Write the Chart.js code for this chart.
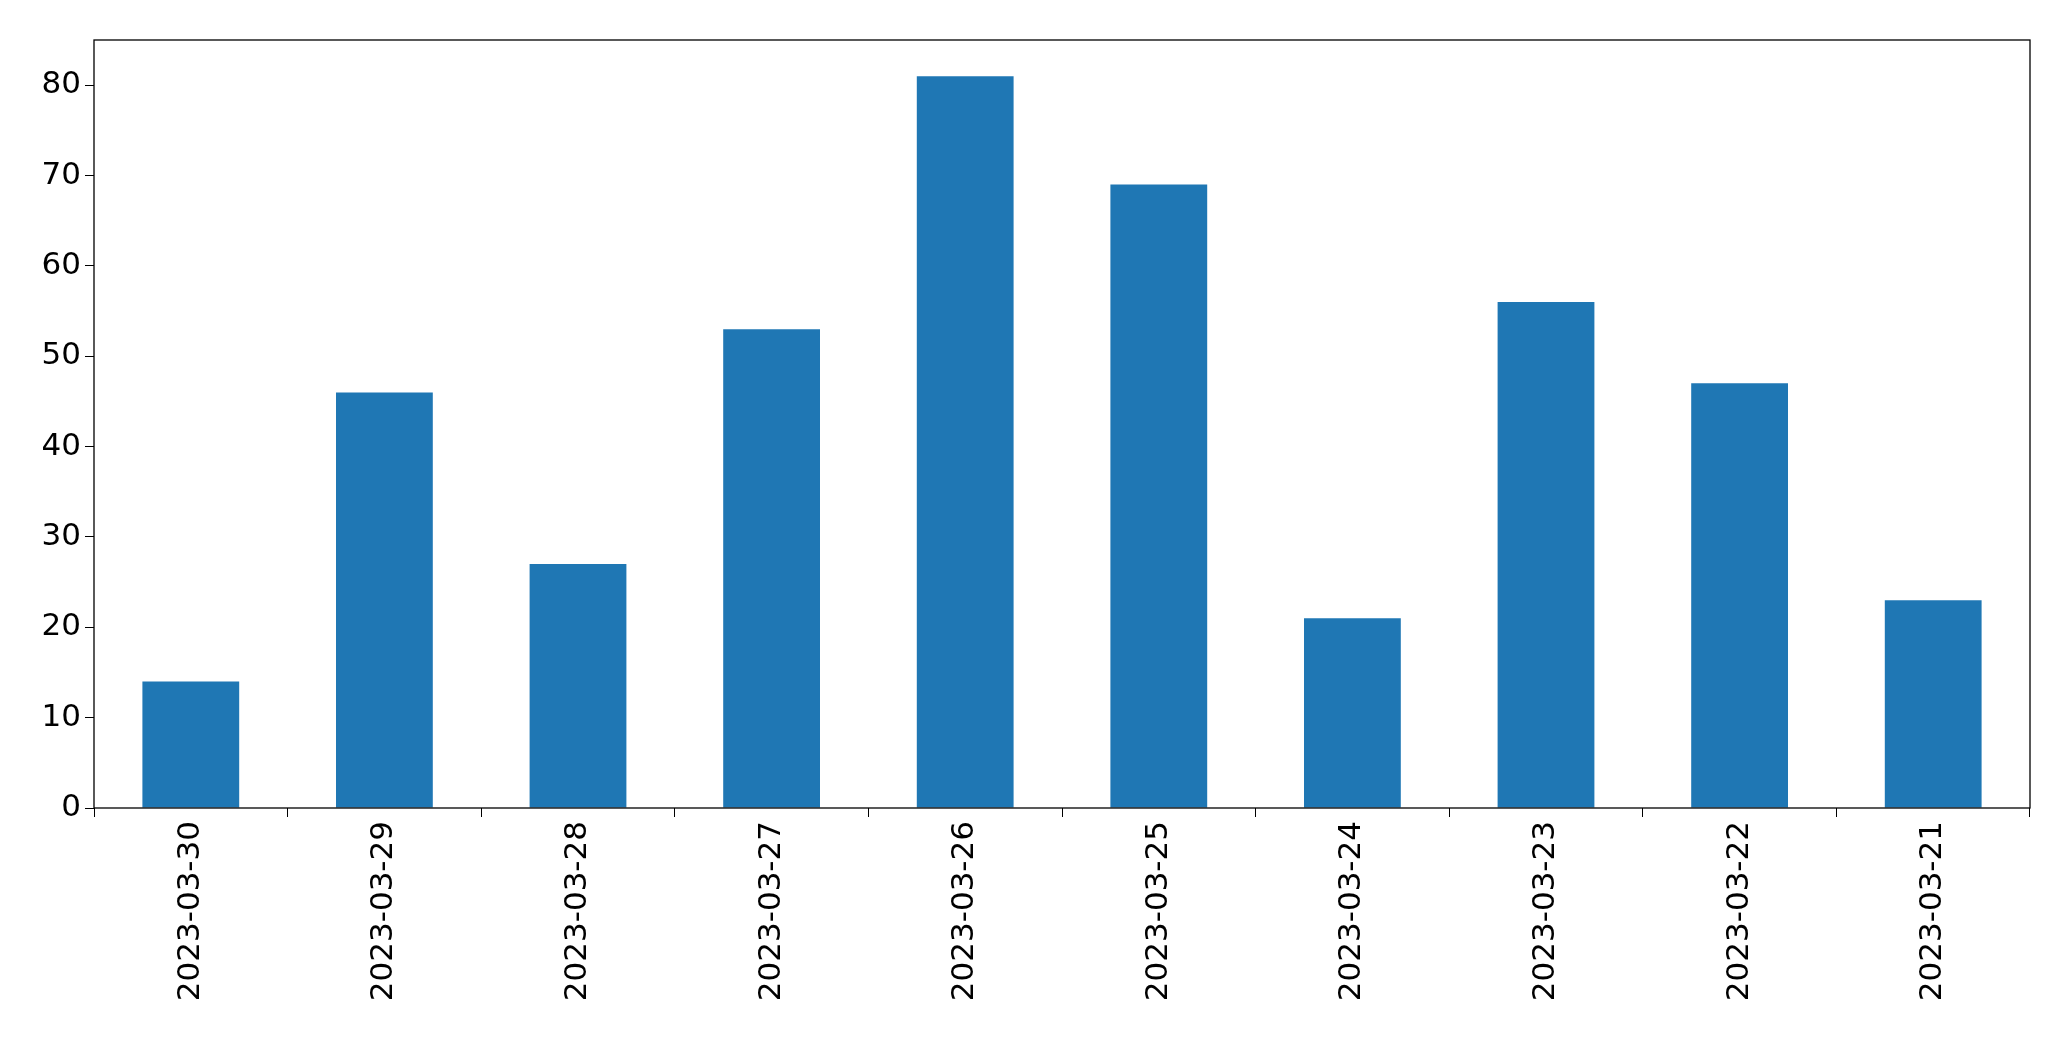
<!DOCTYPE html>
<html><head><meta charset="utf-8">
<script src="https://cdn.jsdelivr.net/npm/chart.js@4"></script>
<style>html,body{margin:0;padding:0;background:#fff}</style>
</head><body>
<canvas id="c" width="2071" height="1061"></canvas>
<script>
const categories = ["2023-03-30","2023-03-29","2023-03-28","2023-03-27","2023-03-26","2023-03-25","2023-03-24","2023-03-23","2023-03-22","2023-03-21"];
const values = [14,46,27,53,81,69,21,56,47,23];
const yTicks = [0,10,20,30,40,50,60,70,80];
const frame = {id:'frame',afterDraw(c){const a=c.chartArea,x=c.ctx;x.save();x.strokeStyle='#000';x.lineWidth=1.3;x.strokeRect(a.left,a.top,a.right-a.left,a.bottom-a.top);x.restore();}};
new Chart(document.getElementById('c'),{
 type:'bar',
 data:{labels:categories,datasets:[{data:values,backgroundColor:'#1f77b4',barPercentage:0.5,categoryPercentage:1}]},
 options:{responsive:false,animation:false,
  layout:{padding:{top:40,right:41,left:0,bottom:0}},
  plugins:{legend:{display:false},tooltip:{enabled:false}},
  scales:{
   x:{afterFit(s){s.height=253;},grid:{drawOnChartArea:false,drawTicks:true,tickLength:9,color:'#000'},border:{display:false},
      ticks:{minRotation:90,maxRotation:90,color:'#000',font:{family:'DejaVu Sans',size:31},padding:4}},
   y:{min:0,max:85,afterFit(s){s.width=94;},afterBuildTicks(s){s.ticks=yTicks.map(v=>({value:v}));},
      grid:{drawOnChartArea:false,drawTicks:true,tickLength:9,color:'#000'},border:{display:false},
      ticks:{color:'#000',font:{family:'DejaVu Sans',size:31},padding:4}}
  }},
 plugins:[frame]
});
</script>
</body></html>
